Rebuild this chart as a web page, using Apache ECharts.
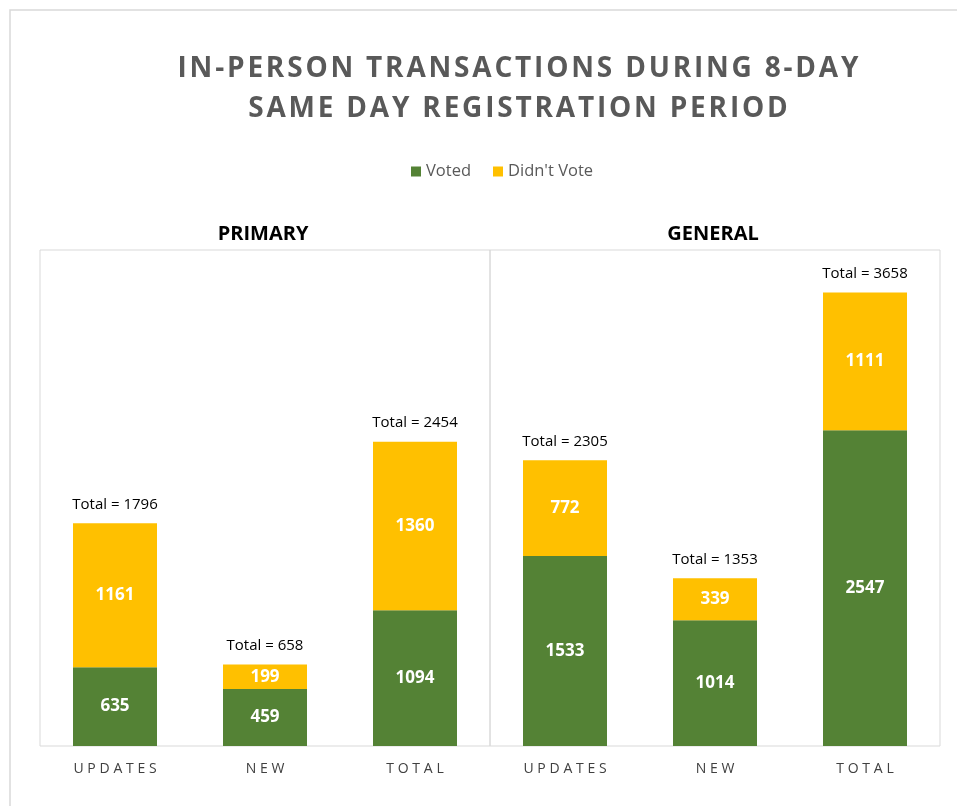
<!DOCTYPE html>
<html>
<head>
<meta charset="utf-8">
<script src="https://cdn.jsdelivr.net/npm/echarts@6/dist/echarts.min.js"></script>
<style>
  html, body { margin: 0; padding: 0; background: #fff; }
  #chart { width: 957px; height: 806px; }
</style>
</head>
<body>
<div id="chart"></div>
<script>
const categories = ['UPDATES', 'NEW', 'TOTAL'];
const panels = ['PRIMARY', 'GENERAL'];

const primaryVoted = [635, 459, 1094];
const primaryDidntVote = [1161, 199, 1360];
const generalVoted = [1533, 1014, 2547];
const generalDidntVote = [772, 339, 1111];

const colors = ['#548235', '#FFC000'];
const fontFamily = '"Open Sans", "Noto Sans", sans-serif';

// letter spacing by joining characters with thin/hair spaces
function spaced(s, sep) {
    return s.split('').join(sep);
}

function panelSeries(idx, voted, didnt) {
    const totals = voted.map((v, i) => v + didnt[i]);
    const inner = {
        show: true,
        position: 'inside',
        color: '#fff',
        fontWeight: 'bold',
        fontSize: 17,
        fontFamily
    };
    return [
        {
            name: 'Voted', type: 'bar', stack: 's' + idx,
            xAxisIndex: idx, yAxisIndex: idx,
            barWidth: '56%', data: voted, label: inner
        },
        {
            name: "Didn't Vote", type: 'bar', stack: 's' + idx,
            xAxisIndex: idx, yAxisIndex: idx,
            barWidth: '56%', data: didnt, label: inner
        },
        {
            name: 'total', type: 'bar', stack: 's' + idx,
            xAxisIndex: idx, yAxisIndex: idx,
            barWidth: '56%',
            data: totals.map(() => 0),
            itemStyle: { color: 'transparent' },
            label: {
                show: true,
                position: 'top',
                distance: 11,
                color: '#000',
                fontSize: 15,
                fontFamily,
                formatter: p => 'Total = ' + totals[p.dataIndex]
            }
        }
    ];
}

const grids = [0, 1].map(i => ({
    left: 40 + i * 450,
    top: 250,
    width: 450,
    height: 496,
    show: true,
    borderColor: '#d9d9d9',
    borderWidth: 1,
    backgroundColor: 'transparent'
}));

const xAxes = [0, 1].map(i => ({
    type: 'category',
    gridIndex: i,
    data: categories,
    axisLine: { show: false },
    axisTick: { show: false },
    axisLabel: {
        color: '#404040',
        fontSize: 14,
        fontFamily,
        margin: 16,
        formatter: v => spaced(v, '\u2009\u200A')
    }
}));

const yAxes = [0, 1].map(i => ({
    type: 'value',
    gridIndex: i,
    min: 0,
    max: 4000,
    show: false,
    splitLine: { show: false }
}));

let chart = echarts.init(document.getElementById('chart'));
let option = {
    animation: false,
    color: colors,
    legend: {
        data: ['Voted', "Didn't Vote"],
        left: 406,
        top: 158,
        itemWidth: 10,
        itemHeight: 10,
        itemGap: 22,
        icon: 'rect',
        textStyle: { color: '#595959', fontSize: 16.5, fontFamily }
    },
    title: panels.map((p, i) => ({
        text: p,
        left: 40 + i * 450 + 218,
        top: 219,
        textAlign: 'center',
        textStyle: { color: '#000', fontSize: 20, fontWeight: 'bold', fontFamily }
    })),
    graphic: [
        {
            type: 'rect',
            shape: { x: 10, y: 10, width: 980, height: 820 },
            style: { fill: 'none', stroke: '#d9d9d9', lineWidth: 1.5 },
            silent: true
        },
        {
            type: 'text',
            x: 518, y: 69,
            style: {
                text: spaced('IN-PERSON TRANSACTIONS DURING 8-DAY', '\u200A'),
                textAlign: 'center', textVerticalAlign: 'middle',
                fill: '#595959', font: 'bold 28px ' + fontFamily
            }
        },
        {
            type: 'text',
            x: 518, y: 109,
            style: {
                text: spaced('SAME DAY REGISTRATION PERIOD', '\u200A'),
                textAlign: 'center', textVerticalAlign: 'middle',
                fill: '#595959', font: 'bold 28px ' + fontFamily
            }
        }
    ],
    grid: grids,
    xAxis: xAxes,
    yAxis: yAxes,
    series: [
        ...panelSeries(0, primaryVoted, primaryDidntVote),
        ...panelSeries(1, generalVoted, generalDidntVote)
    ]
};

option && chart.setOption(option);
</script>
</body>
</html>
